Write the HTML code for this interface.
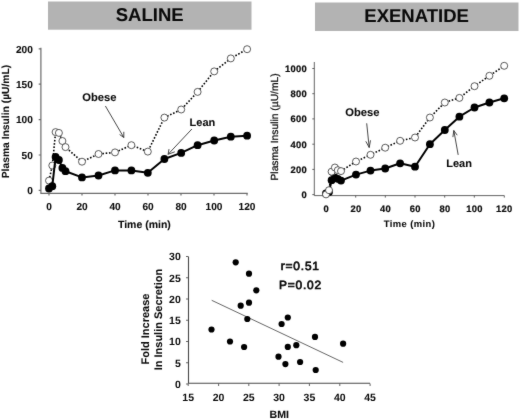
<!DOCTYPE html>
<html><head><meta charset="utf-8"><title>Figure</title>
<style>
html,body{margin:0;padding:0;background:#fff;}
body{width:520px;height:420px;overflow:hidden;font-family:"Liberation Sans",sans-serif;}
svg{display:block;font-family:"Liberation Sans",sans-serif;}
text{fill:#0a0a0a;text-rendering:geometricPrecision;}
.r{stroke:#0a0a0a;stroke-width:0.25px;}
.m{stroke:#0a0a0a;stroke-width:0.7px;}
.b,.tk{stroke:#0a0a0a;stroke-width:0.08px;}
.b{font-weight:bold;}
.tk{font-size:10.1px;font-weight:bold;}
.tk2{font-size:10.5px;font-weight:bold;}
.tkr{font-size:9.4px;font-weight:bold;letter-spacing:0.3px;stroke:#0a0a0a;stroke-width:0.2px;}
.ax{stroke:#6c6c6c;stroke-width:1.2;fill:none;}
.ax2{stroke:#484848;stroke-width:0.85;fill:none;}
.sl{stroke:#000;stroke-width:2;fill:none;stroke-linejoin:round;}
.dl{stroke:#000;stroke-width:1.6;fill:none;stroke-dasharray:1.6 1.7;}
.o{fill:#fff;stroke:#333;stroke-width:0.8;}
.f{fill:#000;}
.ar{stroke:#333;stroke-width:0.9;fill:none;}
.rg{stroke:#555;stroke-width:0.9;fill:none;}
</style></head><body>
<svg width="520" height="420" viewBox="0 0 520 420">
<defs><filter id="sf" filterUnits="userSpaceOnUse" x="0" y="0" width="520" height="420" color-interpolation-filters="sRGB"><feConvolveMatrix order="3" kernelMatrix="1 4 1 4 50 4 1 4 1" divisor="70" edgeMode="duplicate" preserveAlpha="false"/></filter></defs>
<g filter="url(#sf)">
<rect x="0" y="0" width="520" height="420" fill="#fff"/>

<rect x="48" y="1.5" width="203.5" height="28.2" fill="#b3b3b3"/>
<text class="b" x="149.7" y="20.7" font-size="18.5" text-anchor="middle">SALINE</text>
<rect x="315" y="2.5" width="203.5" height="28.5" fill="#b3b3b3"/>
<text class="b" x="416.6" y="21.9" font-size="18.5" text-anchor="middle">EXENATIDE</text>
<path class="ax" d="M40.9,47.8V193.3H247.7"/>
<path class="ax" d="M38.7,190.4H41M38.7,155.0H41M38.7,119.6H41M38.7,84.2H41M38.7,48.8H41M49,193.3V195.5M82,193.3V195.5M115,193.3V195.5M148,193.3V195.5M181,193.3V195.5M214,193.3V195.5M247,193.3V195.5"/>
<text class="tk" x="32.8" y="194.2" text-anchor="end">0</text>
<text class="tk" x="32.8" y="158.8" text-anchor="end">50</text>
<text class="tk" x="32.8" y="123.4" text-anchor="end">100</text>
<text class="tk" x="32.8" y="88.0" text-anchor="end">150</text>
<text class="tk" x="32.8" y="52.6" text-anchor="end">200</text>
<text class="tk" x="49" y="210" text-anchor="middle">0</text>
<text class="tk" x="82" y="210" text-anchor="middle">20</text>
<text class="tk" x="115" y="210" text-anchor="middle">40</text>
<text class="tk" x="148" y="210" text-anchor="middle">60</text>
<text class="tk" x="181" y="210" text-anchor="middle">80</text>
<text class="tk" x="214" y="210" text-anchor="middle">100</text>
<text class="tk" x="247" y="210" text-anchor="middle">120</text>
<text class="b" x="144.4" y="227.7" font-size="10.5" text-anchor="middle">Time (min)</text>
<text class="b" transform="translate(8.8,121.5) rotate(-90)" font-size="10.3" text-anchor="middle">Plasma Insulin (µU/mL)</text>
<polyline class="dl" points="49.0,180.6 52.3,165.5 55.6,132.1 58.9,132.9 62.4,141.0 65.5,147.1 82.0,161.7 98.5,154.0 115.0,152.4 131.4,145.2 147.8,151.6 164.4,117.6 181.2,109.5 197.6,91.9 214.2,71.4 230.8,58.4 247.1,49.2"/>
<circle class="o" cx="49.0" cy="180.6" r="3.5"/><circle class="o" cx="52.3" cy="165.5" r="3.5"/><circle class="o" cx="55.6" cy="132.1" r="3.5"/><circle class="o" cx="58.9" cy="132.9" r="3.5"/><circle class="o" cx="62.4" cy="141.0" r="3.5"/><circle class="o" cx="65.5" cy="147.1" r="3.5"/><circle class="o" cx="82.0" cy="161.7" r="3.5"/><circle class="o" cx="98.5" cy="154.0" r="3.5"/><circle class="o" cx="115.0" cy="152.4" r="3.5"/><circle class="o" cx="131.4" cy="145.2" r="3.5"/><circle class="o" cx="147.8" cy="151.6" r="3.5"/><circle class="o" cx="164.4" cy="117.6" r="3.5"/><circle class="o" cx="181.2" cy="109.5" r="3.5"/><circle class="o" cx="197.6" cy="91.9" r="3.5"/><circle class="o" cx="214.2" cy="71.4" r="3.5"/><circle class="o" cx="230.8" cy="58.4" r="3.5"/><circle class="o" cx="247.1" cy="49.2" r="3.5"/>
<polyline class="sl" points="49.0,188.5 52.3,186.2 55.6,156.9 58.9,160.0 62.4,167.9 65.5,171.2 82.0,177.4 98.5,175.5 115.0,170.4 131.4,170.4 147.8,172.8 164.4,159.0 181.2,152.9 197.6,145.2 214.2,140.5 230.8,136.7 247.1,135.7"/>
<circle class="f" cx="49.0" cy="188.5" r="3.9"/><circle class="f" cx="52.3" cy="186.2" r="3.9"/><circle class="f" cx="55.6" cy="156.9" r="3.9"/><circle class="f" cx="58.9" cy="160.0" r="3.9"/><circle class="f" cx="62.4" cy="167.9" r="3.9"/><circle class="f" cx="65.5" cy="171.2" r="3.9"/><circle class="f" cx="82.0" cy="177.4" r="3.9"/><circle class="f" cx="98.5" cy="175.5" r="3.9"/><circle class="f" cx="115.0" cy="170.4" r="3.9"/><circle class="f" cx="131.4" cy="170.4" r="3.9"/><circle class="f" cx="147.8" cy="172.8" r="3.9"/><circle class="f" cx="164.4" cy="159.0" r="3.9"/><circle class="f" cx="181.2" cy="152.9" r="3.9"/><circle class="f" cx="197.6" cy="145.2" r="3.9"/><circle class="f" cx="214.2" cy="140.5" r="3.9"/><circle class="f" cx="230.8" cy="136.7" r="3.9"/><circle class="f" cx="247.1" cy="135.7" r="3.9"/>
<text class="b" x="82.2" y="100.5" font-size="11.2">Obese</text>
<path class="ar" d="M105.4,106L123.8,137.5M119.6,134.5L123.8,137.5L123.8,131.8"/>
<text class="b" x="189.6" y="125.7" font-size="11">Lean</text>
<path class="ar" d="M191.9,129L168.1,154.3M169,149.1L168.1,154.3L174.8,151.8"/>
<path class="ax2" d="M314.3,62V195.6H504.3V197.6"/>
<path class="ax2" d="M312.3,194.6H314.3M312.3,169.4H314.3M312.3,144.2H314.3M312.3,118.9H314.3M312.3,93.7H314.3M312.3,68.5H314.3M326,195.6V197.6M355.7,195.6V197.6M385.3,195.6V197.6M415,195.6V197.6M444.7,195.6V197.6M474.3,195.6V197.6"/>
<text class="tkr" x="307.1" y="198.0" text-anchor="end">0</text>
<text class="tkr" x="307.1" y="172.8" text-anchor="end">200</text>
<text class="tkr" x="307.1" y="147.6" text-anchor="end">400</text>
<text class="tkr" x="307.1" y="122.3" text-anchor="end">600</text>
<text class="tkr" x="307.1" y="97.1" text-anchor="end">800</text>
<text class="tkr" x="307.1" y="71.9" text-anchor="end">1000</text>
<text class="tkr" x="326.2" y="211.8" text-anchor="middle">0</text>
<text class="tkr" x="355.9" y="211.8" text-anchor="middle">20</text>
<text class="tkr" x="385.5" y="211.8" text-anchor="middle">40</text>
<text class="tkr" x="415.2" y="211.8" text-anchor="middle">60</text>
<text class="tkr" x="444.9" y="211.8" text-anchor="middle">80</text>
<text class="tkr" x="474.5" y="211.8" text-anchor="middle">100</text>
<text class="tkr" x="504.2" y="211.8" text-anchor="middle">120</text>
<text class="b" x="409.5" y="227.2" font-size="9.4" letter-spacing="0.45" text-anchor="middle">Time (min)</text>
<text class="r" transform="translate(277.9,126.9) rotate(-90)" font-size="10.3" text-anchor="middle">Plasma Insulin (µU/mL)</text>
<polyline class="sl" points="326.0,193.5 329.0,192.0 331.6,180.2 334.9,177.6 337.8,178.8 341.0,180.6 356.0,174.6 370.5,170.6 385.2,168.5 400.1,163.3 415.0,166.7 429.9,144.2 444.8,130.0 459.4,116.7 474.5,107.5 489.4,102.5 504.2,98.3"/>
<circle class="f" cx="326.0" cy="193.5" r="3.9"/><circle class="f" cx="329.0" cy="192.0" r="3.9"/><circle class="f" cx="331.6" cy="180.2" r="3.9"/><circle class="f" cx="334.9" cy="177.6" r="3.9"/><circle class="f" cx="337.8" cy="178.8" r="3.9"/><circle class="f" cx="341.0" cy="180.6" r="3.9"/><circle class="f" cx="356.0" cy="174.6" r="3.9"/><circle class="f" cx="370.5" cy="170.6" r="3.9"/><circle class="f" cx="385.2" cy="168.5" r="3.9"/><circle class="f" cx="400.1" cy="163.3" r="3.9"/><circle class="f" cx="415.0" cy="166.7" r="3.9"/><circle class="f" cx="429.9" cy="144.2" r="3.9"/><circle class="f" cx="444.8" cy="130.0" r="3.9"/><circle class="f" cx="459.4" cy="116.7" r="3.9"/><circle class="f" cx="474.5" cy="107.5" r="3.9"/><circle class="f" cx="489.4" cy="102.5" r="3.9"/><circle class="f" cx="504.2" cy="98.3" r="3.9"/>
<polyline class="dl" points="326.0,194.4 329.0,190.2 331.6,171.7 334.9,167.5 337.8,170.2 341.0,171.1 356.0,161.5 370.5,154.8 385.2,147.7 400.1,140.8 415.0,137.5 429.9,117.5 444.8,102.5 459.4,97.9 474.5,86.2 489.4,75.8 504.2,65.8"/>
<circle class="o" cx="326.0" cy="194.4" r="3.5"/><circle class="o" cx="329.0" cy="190.2" r="3.5"/><circle class="o" cx="331.6" cy="171.7" r="3.5"/><circle class="o" cx="334.9" cy="167.5" r="3.5"/><circle class="o" cx="337.8" cy="170.2" r="3.5"/><circle class="o" cx="341.0" cy="171.1" r="3.5"/><circle class="o" cx="356.0" cy="161.5" r="3.5"/><circle class="o" cx="370.5" cy="154.8" r="3.5"/><circle class="o" cx="385.2" cy="147.7" r="3.5"/><circle class="o" cx="400.1" cy="140.8" r="3.5"/><circle class="o" cx="415.0" cy="137.5" r="3.5"/><circle class="o" cx="429.9" cy="117.5" r="3.5"/><circle class="o" cx="444.8" cy="102.5" r="3.5"/><circle class="o" cx="459.4" cy="97.9" r="3.5"/><circle class="o" cx="474.5" cy="86.2" r="3.5"/><circle class="o" cx="489.4" cy="75.8" r="3.5"/><circle class="o" cx="504.2" cy="65.8" r="3.5"/>
<text class="b" x="345.3" y="115.8" font-size="11.2">Obese</text>
<path class="ar" d="M366.7,123.3L369.2,147.5M365.8,141.3L369.2,147.5L370.5,140.3"/>
<text class="b" x="446.2" y="166.7" font-size="11">Lean</text>
<path class="ar" d="M458.2,154.9L453.8,130.5M452.9,137.1L453.8,130.5L457.2,135.2"/>
<path class="ax2" style="stroke-width:1.1" d="M188.5,256.5V383.3H370"/>
<path class="ax2" d="M186,384.0H188.2M186,362.75H188.2M186,341.5H188.2M186,320.25H188.2M186,299.0H188.2M186,277.75H188.2M186,256.5H188.2M188.2,383.5V386M218.6,383.5V386M248.8,383.5V386M279.1,383.5V386M309.4,383.5V386M339.8,383.5V386M370.1,383.5V386"/>
<text class="tk2" x="180.8" y="387.8" text-anchor="end">0</text>
<text class="tk2" x="180.8" y="366.6" text-anchor="end">5</text>
<text class="tk2" x="180.8" y="345.3" text-anchor="end">10</text>
<text class="tk2" x="180.8" y="324.1" text-anchor="end">15</text>
<text class="tk2" x="180.8" y="302.8" text-anchor="end">20</text>
<text class="tk2" x="180.8" y="281.6" text-anchor="end">25</text>
<text class="tk2" x="180.8" y="260.3" text-anchor="end">30</text>
<text class="tk2" x="188.2" y="401.3" text-anchor="middle">15</text>
<text class="tk2" x="218.6" y="401.3" text-anchor="middle">20</text>
<text class="tk2" x="248.8" y="401.3" text-anchor="middle">25</text>
<text class="tk2" x="279.1" y="401.3" text-anchor="middle">30</text>
<text class="tk2" x="309.4" y="401.3" text-anchor="middle">35</text>
<text class="tk2" x="339.8" y="401.3" text-anchor="middle">40</text>
<text class="tk2" x="370.1" y="401.3" text-anchor="middle">45</text>
<text class="b" x="279.3" y="418.4" font-size="10.6" text-anchor="middle">BMI</text>
<text class="b" transform="translate(148.8,329.0) rotate(-90)" font-size="11" text-anchor="middle">Fold Increase</text>
<text class="b" transform="translate(161.7,319.6) rotate(-90)" font-size="11" text-anchor="middle">In Insulin Secretion</text>
<path class="rg" d="M211.7,300.3L343.1,362.4"/>
<circle class="f" cx="235.7" cy="262.3" r="3.1"/><circle class="f" cx="249" cy="273.7" r="3.1"/><circle class="f" cx="256.3" cy="290.3" r="3.1"/><circle class="f" cx="240.7" cy="305.7" r="3.1"/><circle class="f" cx="249" cy="302.7" r="3.1"/><circle class="f" cx="247.3" cy="319" r="3.1"/><circle class="f" cx="211.5" cy="329.5" r="3.1"/><circle class="f" cx="230" cy="341.5" r="3.1"/><circle class="f" cx="244.1" cy="347" r="3.1"/><circle class="f" cx="281.6" cy="324" r="3.1"/><circle class="f" cx="287.8" cy="317.5" r="3.1"/><circle class="f" cx="287.8" cy="346.9" r="3.1"/><circle class="f" cx="296.3" cy="345.2" r="3.1"/><circle class="f" cx="315" cy="336.9" r="3.1"/><circle class="f" cx="343.1" cy="343.7" r="3.1"/><circle class="f" cx="278.5" cy="356.7" r="3.1"/><circle class="f" cx="285.4" cy="364.1" r="3.1"/><circle class="f" cx="300.1" cy="362" r="3.1"/><circle class="f" cx="315.7" cy="370" r="3.1"/>
<text class="m" x="280.7" y="269.9" font-size="11.9" letter-spacing="0.85">r=0.51</text>
<text class="m" x="278.9" y="288.5" font-size="11.9" letter-spacing="0.85">P=0.02</text>
</g></svg></body></html>
